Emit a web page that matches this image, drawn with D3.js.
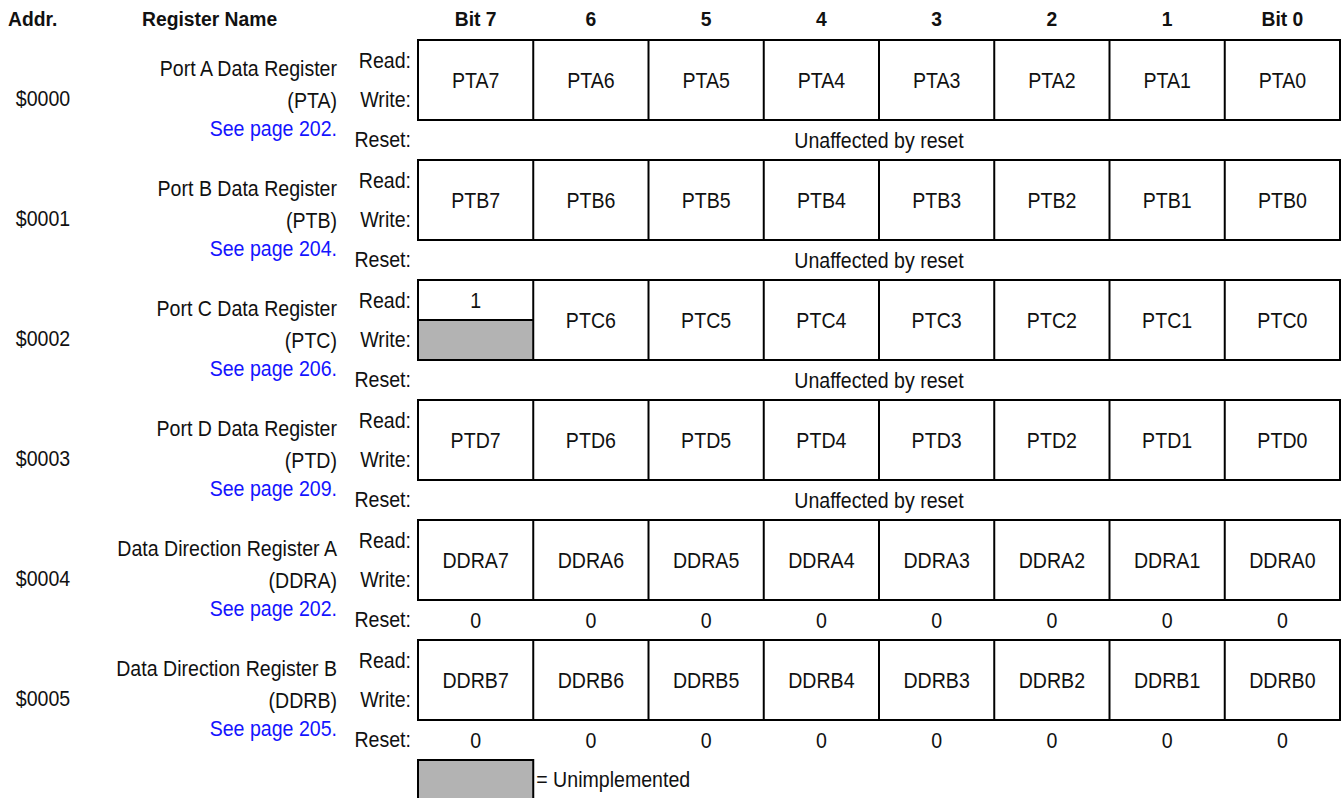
<!DOCTYPE html>
<html>
<head>
<meta charset="utf-8">
<script src="https://cdn.jsdelivr.net/npm/d3@7"></script>
<style>
body { margin: 0; background: #fff; }
text { font-family: "Liberation Sans", Arial, sans-serif; fill: #111; }
</style>
</head>
<body>
<svg id="chart" width="1341" height="798"></svg>
<script>
// register summary data
const addresses = ["$0000", "$0001", "$0002", "$0003", "$0004", "$0005"];
const regNames = ["Port A Data Register", "Port B Data Register", "Port C Data Register",
                  "Port D Data Register", "Data Direction Register A", "Data Direction Register B"];
const regAbbrev = ["(PTA)", "(PTB)", "(PTC)", "(PTD)", "(DDRA)", "(DDRB)"];
const pages = ["See page 202.", "See page 204.", "See page 206.", "See page 209.", "See page 202.", "See page 205."];
const bitHeaders = ["Bit 7", "6", "5", "4", "3", "2", "1", "Bit 0"];
const bitNames = [
  ["PTA7", "PTA6", "PTA5", "PTA4", "PTA3", "PTA2", "PTA1", "PTA0"],
  ["PTB7", "PTB6", "PTB5", "PTB4", "PTB3", "PTB2", "PTB1", "PTB0"],
  [null, "PTC6", "PTC5", "PTC4", "PTC3", "PTC2", "PTC1", "PTC0"],
  ["PTD7", "PTD6", "PTD5", "PTD4", "PTD3", "PTD2", "PTD1", "PTD0"],
  ["DDRA7", "DDRA6", "DDRA5", "DDRA4", "DDRA3", "DDRA2", "DDRA1", "DDRA0"],
  ["DDRB7", "DDRB6", "DDRB5", "DDRB4", "DDRB3", "DDRB2", "DDRB1", "DDRB0"]
];
// split cells: read value on top, unimplemented write below
const splitCells = [{reg: 2, bit: 0, read: "1"}];
const resetVals = [
  "Unaffected by reset", "Unaffected by reset", "Unaffected by reset", "Unaffected by reset",
  ["0", "0", "0", "0", "0", "0", "0", "0"],
  ["0", "0", "0", "0", "0", "0", "0", "0"]
];

const svg = d3.select("#chart");
const SX = 0.89;   // the source font is a condensed grotesque
const grey = "#b3b3b3";

const x = d3.scaleBand().domain(d3.range(8)).range([418, 1340]);
const y = d3.scaleBand().domain(d3.range(6)).range([40, 760]);
const boxH = y.bandwidth() * 2 / 3;

function txt(g, px, py, s, opts) {
  opts = opts || {};
  return g.append("text")
    .attr("transform", `translate(${px},${py}) scale(${opts.sx || SX},1)`)
    .attr("text-anchor", opts.anchor || "middle")
    .attr("dy", "0.35em")
    .style("font-size", (opts.size || 22) + "px")
    .style("font-weight", opts.bold ? "bold" : null)
    .style("fill", opts.fill || null)
    .text(s);
}

// header
const head = svg.append("g");
txt(head, 8, 19, "Addr.", {anchor: "start", bold: true, size: 21, sx: 0.92});
txt(head, 142, 19, "Register Name", {anchor: "start", bold: true, size: 21, sx: 0.92});
bitHeaders.forEach((h, i) => txt(head, x(i) + x.bandwidth() / 2, 19, h, {bold: true, size: 21, sx: 0.92}));

// register blocks
const rows = svg.selectAll("g.reg")
  .data(d3.range(6))
  .join("g")
  .attr("class", "reg");

rows.each(function (r) {
  const g = d3.select(this);
  const top = y(r);
  txt(g, 43, top + 58, addresses[r]);
  txt(g, 337, top + 28, regNames[r], {anchor: "end"});
  txt(g, 337, top + 60, regAbbrev[r], {anchor: "end"});
  txt(g, 337, top + 88, pages[r], {anchor: "end", fill: "#1414ff"});
  txt(g, 411, top + 20, "Read:", {anchor: "end"});
  txt(g, 411, top + 59, "Write:", {anchor: "end"});
  txt(g, 411, top + 99, "Reset:", {anchor: "end"});

  bitNames[r].forEach((name, b) => {
    const split = splitCells.find(s => s.reg === r && s.bit === b);
    if (split) {
      g.append("rect").attr("x", x(b)).attr("y", top + boxH / 2)
        .attr("width", x.bandwidth()).attr("height", boxH / 2)
        .attr("fill", grey);
      g.append("line").attr("x1", x(b)).attr("x2", x(b) + x.bandwidth())
        .attr("y1", top + boxH / 2).attr("y2", top + boxH / 2)
        .attr("stroke", "#000").attr("stroke-width", 2);
      txt(g, x(b) + x.bandwidth() / 2, top + boxH / 4, split.read);
    } else {
      txt(g, x(b) + x.bandwidth() / 2, top + boxH / 2, name);
    }
    if (b > 0) {
      g.append("line").attr("x1", x(b)).attr("x2", x(b))
        .attr("y1", top).attr("y2", top + boxH)
        .attr("stroke", "#000").attr("stroke-width", 2);
    }
  });

  g.append("rect").attr("x", x(0)).attr("y", top)
    .attr("width", x.range()[1] - x(0)).attr("height", boxH)
    .attr("fill", "none").attr("stroke", "#000").attr("stroke-width", 2);

  const rv = resetVals[r];
  const ry = top + boxH + (y.bandwidth() - boxH) / 2;
  if (Array.isArray(rv)) {
    rv.forEach((v, b) => txt(g, x(b) + x.bandwidth() / 2, ry, v));
  } else {
    txt(g, (x(0) + x.range()[1]) / 2, ry, rv);
  }
});

// legend
const leg = svg.append("g");
leg.append("rect").attr("x", x(0)).attr("y", 760)
  .attr("width", x.bandwidth()).attr("height", 40)
  .attr("fill", grey).attr("stroke", "#000").attr("stroke-width", 2);
txt(leg, x(0) + x.bandwidth() + 3, 779, "= Unimplemented", {anchor: "start"});
</script>
</body>
</html>
